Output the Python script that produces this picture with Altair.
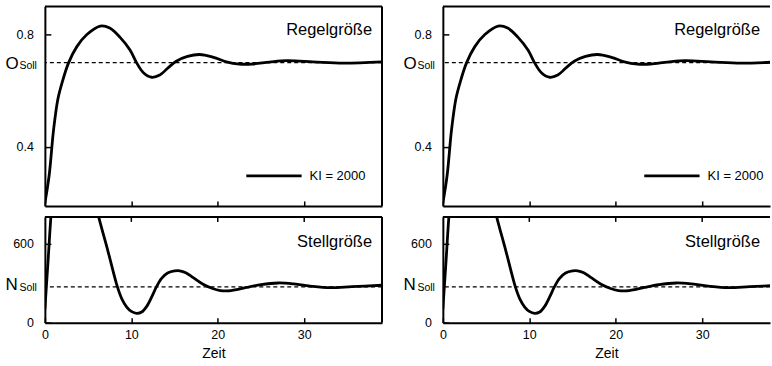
import altair as alt
import pandas as pd

FONT = "Liberation Sans"

# --- data -------------------------------------------------------------------
# Regelgröße (controlled variable) vs. Zeit
t_o = [0.0, 0.5, 1.0, 1.5, 2.0, 2.75, 3.7, 4.86, 6.4, 7.5, 8.7, 9.85, 10.6, 11.4,
       12.35, 13.3, 14.2, 15.2, 16.5, 17.9, 19.5, 21.0, 22.5, 24.0, 26.0, 28.0,
       31.0, 34.5, 39.0]
o_val = [0.20, 0.30, 0.46, 0.57, 0.63, 0.70, 0.757, 0.80, 0.83, 0.823, 0.790, 0.745,
         0.70, 0.664, 0.648, 0.656, 0.680, 0.705, 0.722, 0.729, 0.719, 0.703, 0.695,
         0.695, 0.702, 0.707, 0.703, 0.698, 0.703]

# Stellgröße (manipulated variable) vs. Zeit
t_n = [0.0, 0.4, 0.8, 1.5, 2.5, 3.5, 4.5, 5.5, 6.2, 7.3, 8.39, 8.9, 9.47, 10.0,
       10.62, 11.2, 11.8, 12.4, 12.9, 13.5, 14.2, 15.0, 15.6, 16.3, 17.2, 18.3,
       19.4, 20.3, 21.1, 22.2, 23.3, 25.0, 27.0, 28.8, 30.9, 33.0, 35.5, 39.0]
n_val = [100, 500, 880, 1250, 1450, 1450, 1300, 1000, 806, 540, 270, 180, 118, 85,
         70, 80, 125, 200, 270, 335, 375, 391, 392, 378, 338, 290,
         258, 243, 240, 250, 266, 288, 300, 293, 275, 265, 272, 283]

O_SOLL = 0.7
N_SOLL = 270
x_ticks = [0, 10, 20, 30]
o_ticks = [0.4, 0.8]
n_ticks = [0, 600]
o_domain = [0.19, 0.9]
n_domain = [0, 800]
panel_titles = ["Regelgröße", "Stellgröße"]
soll_letters = ["O", "N"]
soll_sub = "Soll"
legend_label = ["KI = 2000"]
legend_t = [23.3]
legend_t2 = [29.7]
legend_v = [0.297]
# -----------------------------------------------------------------------------

PX_PER_T = 338 / 39.0


def panel(kind, col):
    width = 338 if col == 0 else 328
    xmax = width / PX_PER_T
    if kind == "O":
        df = pd.DataFrame({"t": t_o, "v": o_val})
        height, ydom, yt, soll = 200, o_domain, o_ticks, O_SOLL
        letter, title, title_v = soll_letters[0], panel_titles[0], 0.815
        letter_dy, sub_dy = 6, 6
    else:
        df = pd.DataFrame({"t": t_n, "v": n_val})
        height, ydom, yt, soll = 106, n_domain, n_ticks, N_SOLL
        letter, title, title_v = soll_letters[1], panel_titles[1], 610
        letter_dy, sub_dy = 3.5, 4

    bottom = kind == "N"
    xs = alt.Scale(domain=[0, xmax], nice=False, zero=False)
    ys = alt.Scale(domain=ydom, nice=False, zero=False)

    xaxis = alt.Axis(values=x_ticks, labels=bottom, title="Zeit" if bottom else None,
                     tickSize=alt.ExprRef(expr="-5"), labelPadding=11, labelFlush=False,
                     domain=True, titlePadding=5, grid=False)
    yaxis = alt.Axis(values=yt, title=None, tickSize=alt.ExprRef(expr="-6"),
                     labelPadding=17.5, domain=True, grid=False, labelFlush=False)

    X = alt.X("t:Q", scale=xs, axis=xaxis)
    Y = alt.Y("v:Q", scale=ys, axis=yaxis)

    layers = []
    layers.append(
        alt.Chart(df)
        .mark_line(color="black", strokeWidth=2.8, clip=True, interpolate="catmull-rom")
        .encode(x=X, y=Y)
    )
    layers.append(
        alt.Chart(pd.DataFrame({"v": [soll]}))
        .mark_rule(strokeDash=[4, 3], strokeWidth=1.3, color="black")
        .encode(y=Y)
    )
    # top edge of frame
    layers.append(
        alt.Chart(pd.DataFrame({"v": [0]}))
        .mark_rule(color="black", strokeWidth=2)
        .encode(y=alt.value(0))
    )
    if col == 0:
        layers.append(
            alt.Chart(pd.DataFrame({"v": [0]}))
            .mark_rule(color="black", strokeWidth=2)
            .encode(x=alt.value(width))
        )
    if bottom:
        layers.append(
            alt.Chart(pd.DataFrame({"t": x_ticks[1:]}))
            .mark_rule(color="black", strokeWidth=1.5)
            .encode(x=X, y=alt.value(0), y2=alt.value(5))
        )
    # O_Soll / N_Soll label
    layers.append(
        alt.Chart(pd.DataFrame({"v": [soll], "s": [letter]}))
        .mark_text(align="left", baseline="alphabetic", font=FONT, fontSize=17,
                   dy=letter_dy, color="black")
        .encode(x=alt.value(-39.5), y=Y, text="s:N")
    )
    layers.append(
        alt.Chart(pd.DataFrame({"v": [soll], "s": [soll_sub]}))
        .mark_text(align="left", baseline="alphabetic", font=FONT, fontSize=10.5,
                   dy=sub_dy, color="black")
        .encode(x=alt.value(-25.5), y=Y, text="s:N")
    )
    # panel title
    layers.append(
        alt.Chart(pd.DataFrame({"t": [width / PX_PER_T - 10 / PX_PER_T], "v": [title_v], "s": [title]}))
        .mark_text(align="right", baseline="middle", font=FONT, fontSize=16.5, color="black")
        .encode(x=X, y=Y, text="s:N")
    )
    if kind == "O":
        leg = pd.DataFrame({"t": legend_t, "t2": legend_t2, "v": legend_v, "s": legend_label})
        layers.append(
            alt.Chart(leg).mark_rule(color="black", strokeWidth=2.8)
            .encode(x=X, x2="t2:Q", y=Y)
        )
        layers.append(
            alt.Chart(leg).mark_text(align="left", baseline="middle", font=FONT,
                                     fontSize=13, dx=8, color="black")
            .encode(x=alt.X("t2:Q", scale=xs, axis=xaxis), y=Y, text="s:N")
        )
    return alt.layer(*layers).properties(width=width, height=height)


chart = alt.concat(
    panel("O", 0), panel("O", 1), panel("N", 0), panel("N", 1),
    columns=2, spacing={"row": 11, "column": 61}, bounds="flush", align="each",
).properties(
    padding={"left": 5, "top": 4, "right": 0, "bottom": 0}
).configure_view(
    stroke="transparent"
).configure_axis(
    labelFont=FONT, titleFont=FONT, labelColor="black", titleColor="black",
    tickColor="black", domainColor="black", labelFontSize=12.5, titleFontSize=14,
    titleFontWeight="normal", tickWidth=1.5, domainWidth=2, grid=False
)

chart.save("out.html", embed_options={"renderer": "svg", "actions": False})
